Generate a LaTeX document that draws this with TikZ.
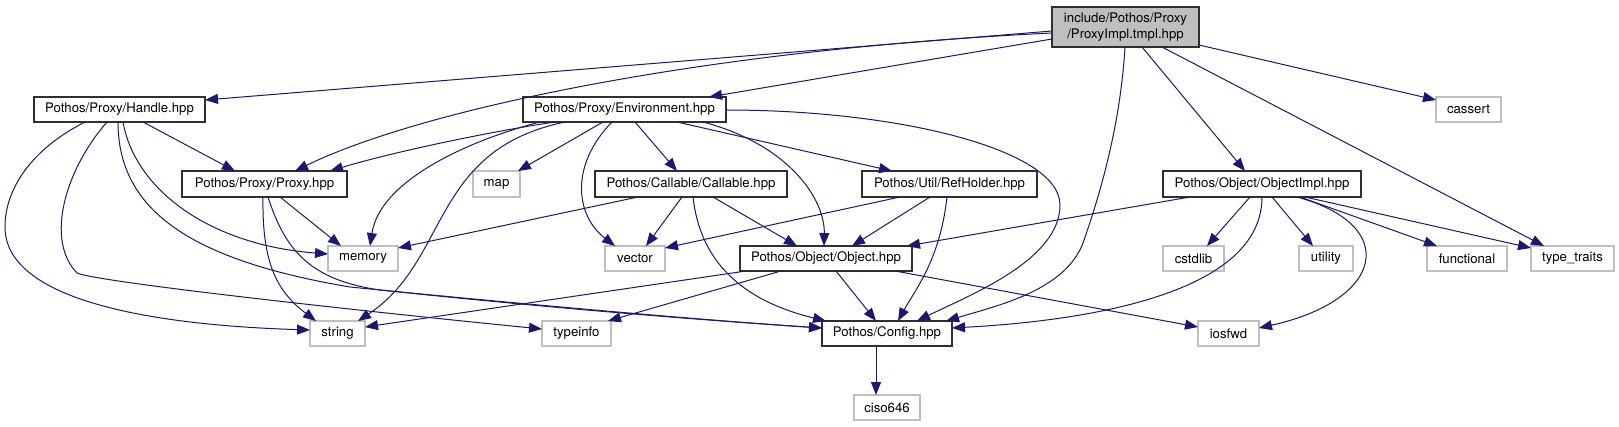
\documentclass[tikz,border=0pt]{standalone}
\usepackage{fontspec}
\setmainfont{TeX Gyre Heros}
\usetikzlibrary{arrows.meta}
\definecolor{edgeblue}{HTML}{191970}
\definecolor{extgray}{HTML}{BFBFBF}
\definecolor{boxline}{HTML}{303030}
\begin{document}
\begin{tikzpicture}[x=1pt,y=-1pt,
  base/.style={anchor=north west, inner sep=0pt, outer sep=0pt, line width=1.1pt,
    font=\fontsize{13.2}{15.5}\selectfont, text=black},
  dbox/.style={base, draw=boxline, fill=white},
  xbox/.style={base, draw=extgray, fill=white},
  rbox/.style={base, draw=boxline, fill=extgray, align=center},
  conn/.style={draw=edgeblue, line width=1pt, -{Triangle[length=13pt,width=10pt]}}]
\useasboundingbox[fill=white] (0,0) rectangle (1619,427);
% nodes
\node[rbox, minimum width=147pt, minimum height=40pt] (root) at (1052,7) {include/Pothos/Proxy\\/ProxyImpl.tmpl.hpp};
\node[dbox, minimum width=171pt, minimum height=25pt] (Handle) at (34,97) {Pothos/Proxy/Handle.hpp};
\node[dbox, minimum width=203pt, minimum height=25pt] (Env) at (523,97) {Pothos/Proxy/Environment.hpp};
\node[xbox, minimum width=65pt, minimum height=25pt] (cassert) at (1436,97) {cassert};
\node[dbox, minimum width=165pt, minimum height=26pt] (Proxy) at (182,171) {Pothos/Proxy/Proxy.hpp};
\node[xbox, minimum width=47pt, minimum height=26pt] (map) at (473,171) {map};
\node[dbox, minimum width=192pt, minimum height=26pt] (Callable) at (595,171) {Pothos/Callable/Callable.hpp};
\node[dbox, minimum width=175pt, minimum height=26pt] (RefHolder) at (862,171) {Pothos/Util/RefHolder.hpp};
\node[dbox, minimum width=198pt, minimum height=26pt] (ObjectImpl) at (1163,171) {Pothos/Object/ObjectImpl.hpp};
\node[xbox, minimum width=70pt, minimum height=25pt] (memory) at (328,246) {memory};
\node[xbox, minimum width=60pt, minimum height=25pt] (vector) at (605,246) {vector};
\node[dbox, minimum width=172pt, minimum height=25pt] (Object) at (740,246) {Pothos/Object/Object.hpp};
\node[xbox, minimum width=61pt, minimum height=25pt] (cstdlib) at (1163,246) {cstdlib};
\node[xbox, minimum width=54pt, minimum height=25pt] (utility) at (1299,246) {utility};
\node[xbox, minimum width=80pt, minimum height=25pt] (functional) at (1427,246) {functional};
\node[xbox, minimum width=83pt, minimum height=25pt] (typetraits) at (1531,246) {type\_traits};
\node[xbox, minimum width=55pt, minimum height=25pt] (string) at (310,321) {string};
\node[xbox, minimum width=69pt, minimum height=25pt] (typeinfo) at (542,321) {typeinfo};
\node[dbox, minimum width=130pt, minimum height=25pt] (Config) at (822,321) {Pothos/Config.hpp};
\node[xbox, minimum width=61pt, minimum height=25pt] (iosfwd) at (1198,321) {iosfwd};
\node[xbox, minimum width=66pt, minimum height=25pt] (ciso) at (854,395) {ciso646};
% root edges
\draw[conn] ([shift={(0,24)}]root.north west) -- ([shift={(171,3)}]Handle.north west);
\draw[conn] ([shift={(0,26)}]root.north west) .. controls (700,50) and (420,110) .. ([shift={(113,0)}]Proxy.north west);
\draw[conn] ([shift={(0,32)}]root.north west) -- ([shift={(186,0)}]Env.north west);
\draw[conn] ([shift={(73,40)}]root.north west) .. controls (1120,130) and (1098,200) .. (1083,243) .. controls (1065,290) and (1000,305) .. ([shift={(124,0)}]Config.north west);
\draw[conn] ([shift={(90,40)}]root.north west) -- ([shift={(82,0)}]ObjectImpl.north west);
\draw[conn] ([shift={(147,38)}]root.north west) -- ([shift={(0,3)}]cassert.north west);
\draw[conn] ([shift={(110,40)}]root.north west) -- ([shift={(13,0)}]typetraits.north west);
% Handle edges
\draw[conn] ([shift={(109,25)}]Handle.north west) -- ([shift={(53,0)}]Proxy.north west);
\draw[conn] ([shift={(51,25)}]Handle.north west) .. controls (30,150) and (5,190) .. (5,227) .. controls (5,300) and (150,325) .. ([shift={(0,9)}]string.north west);
\draw[conn] ([shift={(73,25)}]Handle.north west) .. controls (65,170) and (45,240) .. (77,273) .. controls (100,283) and (400,315) .. ([shift={(0,8)}]typeinfo.north west);
\draw[conn] ([shift={(89,25)}]Handle.north west) .. controls (135,190) and (210,245) .. ([shift={(0,8)}]memory.north west);
\draw[conn] ([shift={(84,25)}]Handle.north west) .. controls (118,210) and (190,260) .. (350,287) .. controls (500,302) and (700,320) .. ([shift={(0,7)}]Config.north west);
% Proxy edges
\draw[conn] ([shift={(98,26)}]Proxy.north west) -- ([shift={(13,0)}]memory.north west);
\draw[conn] ([shift={(81,26)}]Proxy.north west) .. controls (262,260) and (275,290) .. ([shift={(6,0)}]string.north west);
\draw[conn] ([shift={(86,26)}]Proxy.north west) .. controls (285,250) and (310,280) .. (380,290) .. controls (550,308) and (700,320) .. ([shift={(0,7)}]Config.north west);
% Environment edges
\draw[conn] ([shift={(32,25)}]Env.north west) .. controls (500,130) and (400,150) .. ([shift={(148,0)}]Proxy.north west);
\draw[conn] ([shift={(17,25)}]Env.north west) .. controls (470,140) and (380,180) .. ([shift={(42,0)}]memory.north west);
\draw[conn] ([shift={(42,25)}]Env.north west) .. controls (430,150) and (450,260) .. ([shift={(48,0)}]string.north west);
\draw[conn] ([shift={(80,25)}]Env.north west) -- ([shift={(45,0)}]map.north west);
\draw[conn] ([shift={(89,25)}]Env.north west) .. controls (570,165) and (575,215) .. ([shift={(10,0)}]vector.north west);
\draw[conn] ([shift={(112,25)}]Env.north west) -- ([shift={(82,0)}]Callable.north west);
\draw[conn] ([shift={(154,25)}]Env.north west) -- ([shift={(30,0)}]RefHolder.north west);
\draw[conn] ([shift={(180,25)}]Env.north west) .. controls (790,145) and (825,200) .. ([shift={(84,0)}]Object.north west);
\draw[conn] ([shift={(203,13)}]Env.north west) .. controls (900,110) and (1060,150) .. (1060,205) .. controls (1060,260) and (970,295) .. ([shift={(95,0)}]Config.north west);
% Callable edges
\draw[conn] ([shift={(43,26)}]Callable.north west) -- ([shift={(70,2)}]memory.north west);
\draw[conn] ([shift={(87,26)}]Callable.north west) -- ([shift={(41,0)}]vector.north west);
\draw[conn] ([shift={(118,26)}]Callable.north west) -- ([shift={(57,0)}]Object.north west);
\draw[conn] ([shift={(98,26)}]Callable.north west) .. controls (700,260) and (740,300) .. ([shift={(4,0)}]Config.north west);
% RefHolder edges
\draw[conn] ([shift={(38,26)}]RefHolder.north west) -- ([shift={(60,2)}]vector.north west);
\draw[conn] ([shift={(68,26)}]RefHolder.north west) -- ([shift={(112,0)}]Object.north west);
\draw[conn] ([shift={(85,26)}]RefHolder.north west) .. controls (940,260) and (915,290) .. ([shift={(76,0)}]Config.north west);
% Object edges
\draw[conn] ([shift={(6,25)}]Object.north west) -- ([shift={(55,6)}]string.north west);
\draw[conn] ([shift={(41,25)}]Object.north west) -- ([shift={(66,0)}]typeinfo.north west);
\draw[conn] ([shift={(96,25)}]Object.north west) -- ([shift={(54,0)}]Config.north west);
\draw[conn] ([shift={(155,25)}]Object.north west) -- ([shift={(0,6)}]iosfwd.north west);
% ObjectImpl edges
\draw[conn] ([shift={(27,26)}]ObjectImpl.north west) -- ([shift={(167,0)}]Object.north west);
\draw[conn] ([shift={(87,26)}]ObjectImpl.north west) -- ([shift={(44,0)}]cstdlib.north west);
\draw[conn] ([shift={(99,26)}]ObjectImpl.north west) .. controls (1262,290) and (1100,320) .. ([shift={(130,7)}]Config.north west);
\draw[conn] ([shift={(109,26)}]ObjectImpl.north west) -- ([shift={(14,0)}]utility.north west);
\draw[conn] ([shift={(134,26)}]ObjectImpl.north west) .. controls (1400,225) and (1385,300) .. ([shift={(61,7)}]iosfwd.north west);
\draw[conn] ([shift={(137,26)}]ObjectImpl.north west) -- ([shift={(10,0)}]functional.north west);
\draw[conn] ([shift={(142,26)}]ObjectImpl.north west) -- ([shift={(0,2)}]typetraits.north west);
% Config edge
\draw[conn] ([shift={(54,25)}]Config.north west) -- ([shift={(22,0)}]ciso.north west);
\end{tikzpicture}
\end{document}
